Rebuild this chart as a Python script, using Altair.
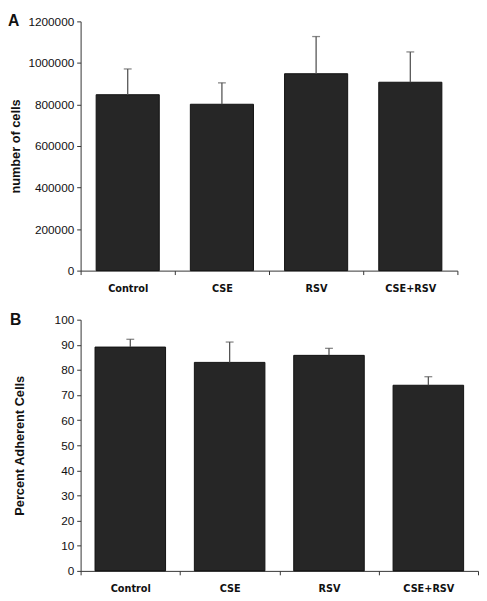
import altair as alt
import pandas as pd

groups = ["Control", "CSE", "RSV", "CSE+RSV"]
cells_mean = [847000, 801000, 948000, 907000]
cells_err_top = [971000, 904000, 1127000, 1053000]
adh_mean = [89.1, 83.0, 85.8, 73.9]
adh_err_top = [92.2, 91.1, 88.6, 77.3]

df_a = pd.DataFrame({"group": groups, "value": cells_mean, "top": cells_err_top})
df_b = pd.DataFrame({"group": groups, "value": adh_mean, "top": adh_err_top})

AX = "#333333"
BAR = "#262626"


def panel(df, letter, ytitle, ymax, ystep, width, height, band, title_pad, letter_x):
    x = alt.X("group:N", sort=groups, title=None,
              scale=alt.Scale(paddingInner=0, paddingOuter=0),
              axis=alt.Axis(tickBand="extent", labelAngle=0, labelFont="DejaVu Sans Condensed",
                            labelFontWeight="bold", labelFontSize=11, labelColor="#111",
                            domainColor=AX, tickColor=AX, tickSize=4, labelPadding=8))
    y = alt.Y("value:Q", title=ytitle,
              scale=alt.Scale(domain=[0, ymax], nice=False),
              axis=alt.Axis(values=list(range(0, ymax + 1, ystep)), grid=False, format="d",
                            labelOverlap=False, tickCount=len(range(0, ymax + 1, ystep)),
                            labelFont="Liberation Sans", labelFontSize=12, labelColor="#111",
                            domainColor=AX, tickColor=AX, tickSize=4, labelPadding=3,
                            titleFont="Liberation Sans", titleFontSize=13, titleFontWeight="bold",
                            titleColor="#111", titlePadding=title_pad))
    base = alt.Chart(df)
    bars = base.mark_bar(color=BAR, stroke="#111111", strokeWidth=1,
                         width=alt.RelativeBandSize(band)).encode(x=x, y=y)
    err = base.mark_rule(color="#555555", strokeWidth=1.3).encode(
        x=x, y=y, y2="top:Q")
    cap = base.mark_tick(color="#555555", thickness=1.3, size=8, orient="horizontal").encode(
        x=x, y=alt.Y("top:Q", scale=alt.Scale(domain=[0, ymax], nice=False)))
    lab = alt.Chart(pd.DataFrame({"t": [letter]})).mark_text(
        font="Liberation Sans", fontSize=16, fontWeight="bold", color="#111",
        align="left", baseline="middle").encode(
        text="t:N", x=alt.value(letter_x), y=alt.value(0))
    return alt.layer(bars, err, cap, lab).properties(width=width, height=height)


a = panel(df_a, "A", "number of cells", 1200000, 200000, 384, 254, 0.67, 6, -74)
b = panel(df_b, "B", "Percent Adherent Cells", 100, 10, 405, 256, 0.71, 28, -72)

chart = alt.vconcat(a, b, spacing=19).properties(padding=0).configure_view(stroke=None)

chart.save("out.html", embed_options={"renderer": "svg", "actions": False})
